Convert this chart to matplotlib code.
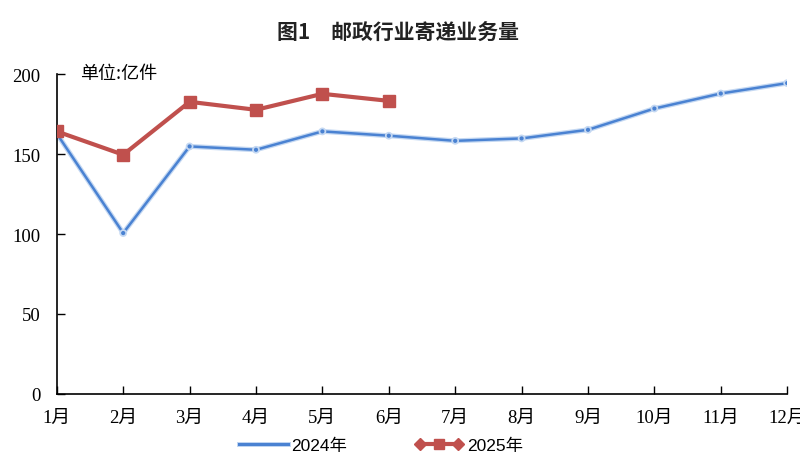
import matplotlib
matplotlib.use("Agg")
import matplotlib.pyplot as plt
import matplotlib.patheffects as pe
from matplotlib.lines import Line2D
from matplotlib.legend_handler import HandlerLine2D, HandlerTuple

plt.rcParams['font.family'] = ['Liberation Serif', 'Noto Sans CJK SC', 'DejaVu Sans']

months = ['1月', '2月', '3月', '4月', '5月', '6月', '7月', '8月', '9月', '10月', '11月', '12月']
vol_2024 = [162.8, 100.6, 154.8, 152.7, 164.2, 161.5, 158.3, 159.8, 165.2, 178.5, 187.9, 194.4]
vol_2025 = [164.2, 149.6, 182.7, 177.7, 187.7, 183.3]

blue = '#4a82d2'
blue_glow = '#c4d8f2'
red = '#c0504d'

fig = plt.figure(figsize=(8, 4.64), dpi=100)
ax = fig.add_axes([0.071, 0.149, 0.913, 0.689])

x = list(range(len(months)))
ax.plot(x, vol_2024, color=blue, lw=1.8, marker='o', ms=2, mfc=blue, mec=blue,
        path_effects=[pe.Stroke(linewidth=3.6, foreground=blue_glow), pe.Normal()],
        zorder=2)
ax.plot(x[:len(vol_2025)], vol_2025, color=red, lw=3, marker='s', ms=8,
        zorder=3)

ax.set_xlim(0, len(months) - 1)
ax.set_ylim(0, 200)
ax.set_yticks([0, 50, 100, 150, 200])
ax.set_xticks(x)
ax.set_xticklabels(months)
ax.tick_params(axis='both', direction='in', length=6, width=1, labelsize=13.5, colors='black')
ax.tick_params(axis='x', pad=11)
ax.tick_params(axis='y', pad=12)
for s in ['top', 'right']:
    ax.spines[s].set_visible(False)
for s in ['left', 'bottom']:
    ax.spines[s].set_linewidth(1.2)

fig.text(0.498, 0.93, '图1\u3000邮政行业寄递业务量', ha='center', va='center',
         fontsize=15, fontweight='bold', family=['Noto Sans CJK SC'], color='#222222')
fig.text(0.1, 0.84, '单位:亿件', ha='left', va='center', fontsize=13,
         family=['Noto Sans CJK SC'])

# legend
h24 = Line2D([], [], color=blue, lw=2.2,
             path_effects=[pe.Stroke(linewidth=3.6, foreground=blue_glow), pe.Normal()])
h25a = Line2D([], [], color=red, lw=3, marker='D', ms=6)
h25b = Line2D([], [], color=red, lw=0, marker='s', ms=7)
fig.legend([h24, (h25a, h25b)], ['2024年', '2025年'],
           handler_map={h25a: HandlerLine2D(numpoints=2), h25b: HandlerLine2D(numpoints=1),
                        tuple: HandlerTuple(ndivide=1)},
           loc='center', bbox_to_anchor=(0.476, 0.038), ncol=2, frameon=False,
           handlelength=2.8, handletextpad=0.2, columnspacing=3.9,
           prop={'family': ['Liberation Sans Narrow', 'Liberation Sans', 'Noto Sans CJK SC'], 'size': 12.5})

fig.savefig('out.png', dpi=100)
